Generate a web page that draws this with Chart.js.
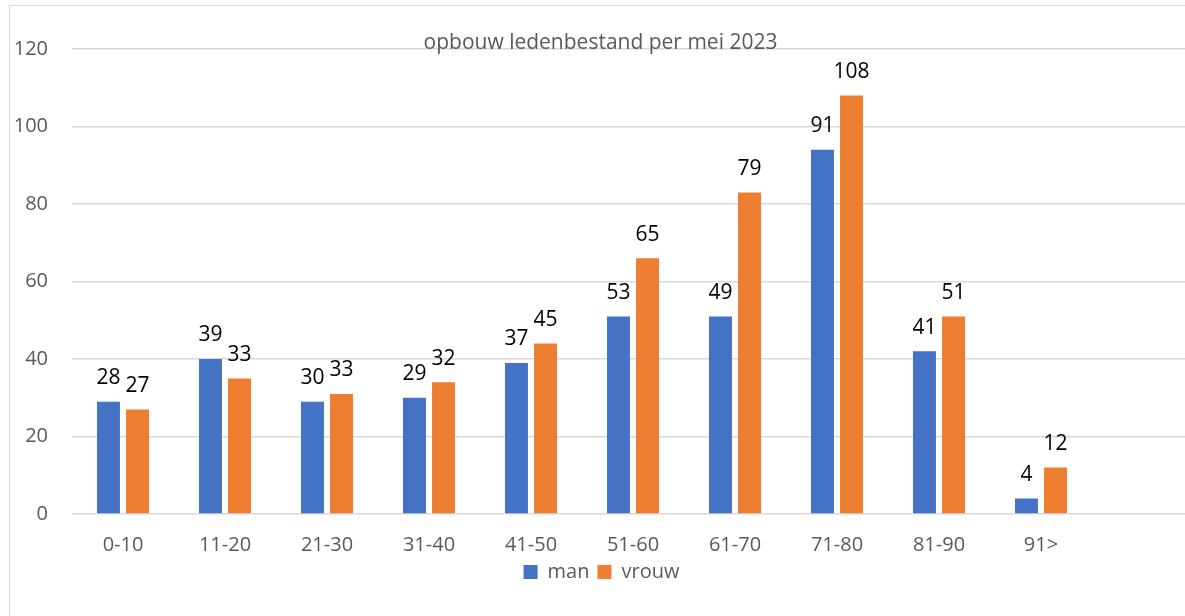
<!DOCTYPE html>
<html>
<head>
<meta charset="utf-8">
<script src="https://cdn.jsdelivr.net/npm/chart.js@4.4.0/dist/chart.umd.min.js"></script>
<style>
html, body { margin:0; padding:0; background:#fff; overflow:hidden; width:1185px; height:616px; }
#frame { position:absolute; left:9px; top:5px; width:1220px; height:640px; border:1px solid #d9d9d9; box-sizing:border-box; }
#wrap { position:absolute; left:9px; top:5px; width:1185px; height:611px; }
</style>
</head>
<body>
<div id="frame"></div>
<div id="wrap"><canvas id="ledenChart" width="1185" height="611"></canvas></div>
<script>
// leeftijdsgroepen (laatste slot leeg, zoals in het origineel)
const categories = ['0-10', '11-20', '21-30', '31-40', '41-50', '51-60', '61-70', '71-80', '81-90', '91>', ''];
const manValues = [29, 40, 29, 30, 39, 51, 51, 94, 42, 4];
const vrouwValues = [27, 35, 31, 34, 44, 66, 83, 108, 51, 12];
// getallen die boven de bars staan
const manLabels = [28, 39, 30, 29, 37, 53, 49, 91, 41, 4];
const vrouwLabels = [27, 33, 33, 32, 45, 65, 79, 108, 51, 12];
const yTicks = [0, 20, 40, 60, 80, 100, 120];
const titleText = 'opbouw ledenbestand per mei 2023';

const FONT = '"Open Sans", "Liberation Sans", sans-serif';
const GREY = '#595959';

// labels boven de bars
const valueLabels = {
  id: 'valueLabels',
  afterDatasetsDraw(chart){
    var ctx = chart.ctx;
    var allLabels = [manLabels, vrouwLabels];
    ctx.save();
    ctx.font = '21px ' + FONT;
    ctx.fillStyle = '#000';
    ctx.textAlign = 'center';
    ctx.textBaseline = 'bottom';
    for(var d=0; d<allLabels.length; d++){
      var meta = chart.getDatasetMeta(d);
      meta.data.forEach(function(bar, i){
        if(allLabels[d][i] === undefined) return;
        ctx.fillText(String(allLabels[d][i]), bar.x, bar.y - 13);
      });
    }
    ctx.restore();
  }
};

// titel valt over de bovenste gridline heen
const overlayTitle = {
  id: 'overlayTitle',
  afterDraw(chart){
    var ctx = chart.ctx;
    ctx.save();
    ctx.font = '21px ' + FONT;
    ctx.fillStyle = GREY;
    ctx.textAlign = 'center';
    ctx.textBaseline = 'alphabetic';
    ctx.fillText(titleText, chart.width/2 - 1, chart.chartArea.top);
    ctx.restore();
  }
};

const ctx = document.getElementById('ledenChart').getContext('2d');
new Chart(ctx, {
  type: 'bar',
  data: {
    labels: categories,
    datasets: [
      { label: 'man', data: manValues, backgroundColor: '#4472C4', borderWidth: 0,
        categoryPercentage: 0.57, barPercentage: 0.79 },
      { label: 'vrouw', data: vrouwValues, backgroundColor: '#ED7D31', borderWidth: 0,
        categoryPercentage: 0.57, barPercentage: 0.79 }
    ]
  },
  options: {
    responsive: false,
    animation: false,
    layout: { padding: { top: 44, right: 0, left: 0, bottom: 24 } },
    plugins: {
      legend: {
        position: 'bottom',
        labels: { boxWidth: 14, boxHeight: 14, padding: 8, color: GREY, font: { family: FONT, size: 20 } }
      },
      tooltip: { enabled: false },
      title: { display: false }
    },
    scales: {
      x: {
        grid: { display: false, drawTicks: false },
        border: { display: false },
        afterFit: function(scale){ scale.height = 40; },
        ticks: { color: GREY, font: { family: FONT, size: 20 }, padding: 19 }
      },
      y: {
        min: 0,
        max: 120,
        afterBuildTicks: function(scale){ scale.ticks = yTicks.map(function(v){ return { value: v }; }); },
        afterFit: function(scale){ scale.width = 63; },
        ticks: { color: GREY, font: { family: FONT, size: 20 }, padding: 24 },
        grid: { color: '#d9d9d9', lineWidth: 1.5, drawTicks: false },
        border: { display: false }
      }
    }
  },
  plugins: [valueLabels, overlayTitle]
});
</script>
</body>
</html>
